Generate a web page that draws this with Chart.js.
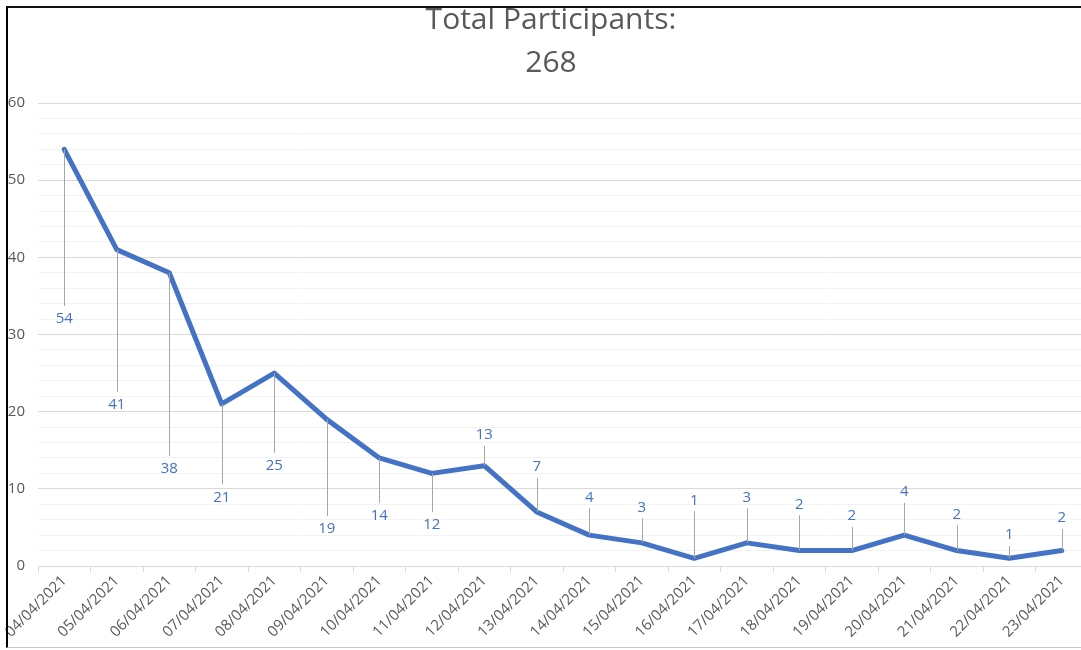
<!DOCTYPE html>
<html>
<head>
<meta charset="utf-8">
<script src="https://cdn.jsdelivr.net/npm/chart.js@4"></script>
<style>
  html, body { margin: 0; padding: 0; background: #fff; overflow: hidden; width: 1081px; height: 650px; }
  #chart { position: absolute; left: 0; top: 0; }
  #frame {
    position: absolute; left: 6px; top: 6px; width: 1090px; height: 642px;
    border-left: 2px solid #000; border-top: 2px solid #111; border-bottom: 1px solid #c8c8c8;
    box-sizing: border-box; pointer-events: none;
  }
</style>
</head>
<body>
<canvas id="chart" width="1100" height="650" style="width:1100px;height:650px"></canvas>
<div id="frame"></div>
<script>
const dates = ["04/04/2021", "05/04/2021", "06/04/2021", "07/04/2021", "08/04/2021",
  "09/04/2021", "10/04/2021", "11/04/2021", "12/04/2021", "13/04/2021",
  "14/04/2021", "15/04/2021", "16/04/2021", "17/04/2021", "18/04/2021",
  "19/04/2021", "20/04/2021", "21/04/2021", "22/04/2021", "23/04/2021"];
const participants = [54, 41, 38, 21, 25, 19, 14, 12, 13, 7, 4, 3, 1, 3, 2, 2, 4, 2, 1, 2];
// where Excel put each data label, in axis units
const labelAt = [32, 20.9, 12.6, 8.9, 13, 4.8, 6.5, 5.3, 17, 12.8, 8.9, 7.6, 8.5, 8.9, 8, 6.5, 9.6, 6.7, 4, 6.2];
const titleLines = ["Total Participants:", "268"];

const blue = "#4472c4";
const grey = "#595959";

// title drawn by hand so the first line sits under the frame like in Excel
const titlePlugin = {
  id: "titleText",
  afterDraw(chart) {
    const ctx = chart.ctx;
    ctx.save();
    ctx.fillStyle = grey;
    ctx.font = "30px 'Open Sans'";
    ctx.textAlign = "center";
    ctx.textBaseline = "alphabetic";
    ctx.fillText(titleLines[0], 551, 29);
    ctx.fillText(titleLines[1], 551, 72);
    ctx.restore();
  }
};

// data labels with leader lines
const labelPlugin = {
  id: "leaderLabels",
  afterDatasetsDraw(chart) {
    const ctx = chart.ctx;
    const y = chart.scales.y;
    const pts = chart.getDatasetMeta(0).data;
    ctx.save();
    ctx.font = "15px 'Open Sans'";
    ctx.textAlign = "center";
    ctx.textBaseline = "middle";
    pts.forEach((p, i) => {
      const ly = y.getPixelForValue(labelAt[i]);
      const below = ly > p.y;
      const end = below ? ly - 13 : ly + 11;
      ctx.strokeStyle = "#a6a6a6";
      ctx.lineWidth = 1;
      ctx.beginPath();
      ctx.moveTo(Math.round(p.x) + 0.5, p.y);
      ctx.lineTo(Math.round(p.x) + 0.5, end);
      ctx.stroke();
      ctx.fillStyle = blue;
      ctx.fillText(String(participants[i]), p.x, ly);
    });
    ctx.restore();
  }
};

new Chart(document.getElementById("chart"), {
  type: "line",
  data: {
    labels: dates,
    datasets: [{
      data: participants,
      borderColor: blue,
      borderWidth: 5,
      pointRadius: 0,
      tension: 0,
      borderJoinStyle: "round",
      borderCapStyle: "round"
    }]
  },
  options: {
    responsive: false,
    animation: false,
    layout: { padding: { top: 103, right: 12, left: 0, bottom: 0 } },
    plugins: { legend: { display: false }, tooltip: { enabled: false }, title: { display: false } },
    scales: {
      x: {
        offset: true,
        grid: { offset: true, drawOnChartArea: false, tickLength: 6, color: "#d9d9d9" },
        border: { color: "#d9d9d9" },
        ticks: {
          autoSkip: false, minRotation: 45, maxRotation: 45, padding: 0,
          color: grey, font: { family: "'Open Sans'", size: 15 }
        },
        afterFit(s) { s.height = 84; }
      },
      y: {
        min: 0, max: 60,
        border: { display: false },
        grid: {
          drawTicks: false,
          color: c => (c.tick && c.tick.value % 10 === 0) ? "#d9d9d9" : "#f2f2f2"
        },
        ticks: {
          stepSize: 2, padding: 13, color: grey, autoSkip: false,
          font: { family: "'Open Sans'", size: 15 },
          callback: v => (v % 10 === 0 ? v : "")
        },
        afterFit(s) { s.width = 38; }
      }
    }
  },
  plugins: [titlePlugin, labelPlugin]
});
</script>
</body>
</html>
